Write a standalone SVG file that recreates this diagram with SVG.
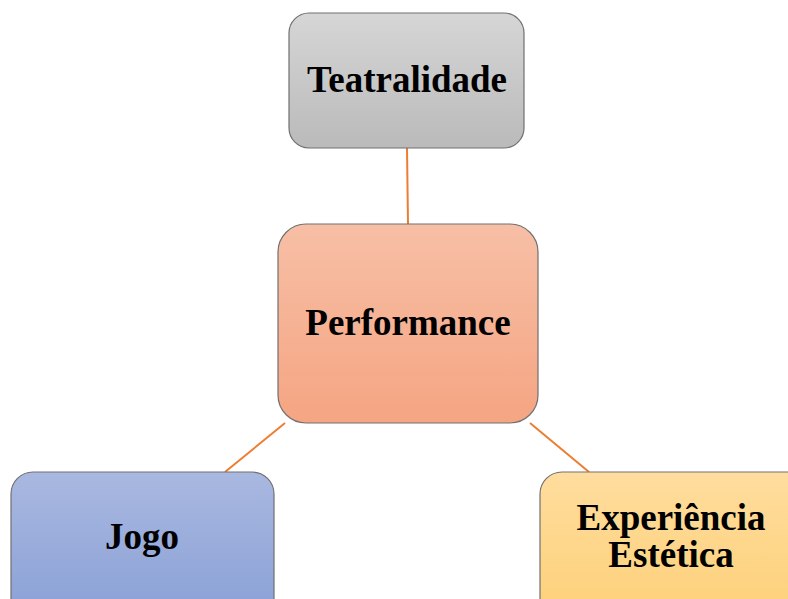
<svg xmlns="http://www.w3.org/2000/svg" width="788" height="599" viewBox="0 0 788 599">
<defs>
<linearGradient id="gGray" x1="0" y1="0" x2="0" y2="1"><stop offset="0" stop-color="#d6d6d6"/><stop offset="1" stop-color="#bababa"/></linearGradient>
<linearGradient id="gSalmon" x1="0" y1="0" x2="0" y2="1"><stop offset="0" stop-color="#f7bfa6"/><stop offset="1" stop-color="#f5a582"/></linearGradient>
<linearGradient id="gBlue" x1="0" y1="0" x2="0" y2="1"><stop offset="0" stop-color="#a9b8e0"/><stop offset="1" stop-color="#89a0d6"/></linearGradient>
<linearGradient id="gYellow" x1="0" y1="0" x2="0" y2="1"><stop offset="0" stop-color="#ffdd9e"/><stop offset="1" stop-color="#fdd078"/></linearGradient>
</defs>
<style>
.box{stroke:#707070;stroke-width:1.2}
.lbl{font-family:"Liberation Serif","Times New Roman",serif;font-weight:bold;font-size:37px;fill:#000;text-anchor:middle}
.conn{stroke:#ed7d31;stroke-width:2;fill:none}
</style>
<rect width="788" height="599" fill="#fff"/>
<g id="connectors">
<line class="conn" x1="407" y1="148" x2="408" y2="224"/>
<line class="conn" x1="285" y1="423" x2="225" y2="472"/>
<line class="conn" x1="530" y1="423" x2="589" y2="472"/>
</g>
<g id="teatralidade">
<rect class="box" x="289" y="13" width="235" height="135" rx="20" fill="url(#gGray)"/>
<text class="lbl" x="407" y="92">Teatralidade</text>
</g>
<g id="performance">
<rect class="box" x="278" y="224" width="260" height="199" rx="28" fill="url(#gSalmon)"/>
<text class="lbl" x="408" y="335">Performance</text>
</g>
<g id="jogo">
<rect class="box" x="11" y="472" width="263" height="150" rx="22" fill="url(#gBlue)"/>
<text class="lbl" x="142" y="549">Jogo</text>
</g>
<g id="experiencia">
<rect class="box" x="540" y="472" width="270" height="150" rx="22" fill="url(#gYellow)"/>
<text class="lbl" x="671" y="530">Experiência</text>
<text class="lbl" x="671" y="567">Estética</text>
</g>
</svg>
